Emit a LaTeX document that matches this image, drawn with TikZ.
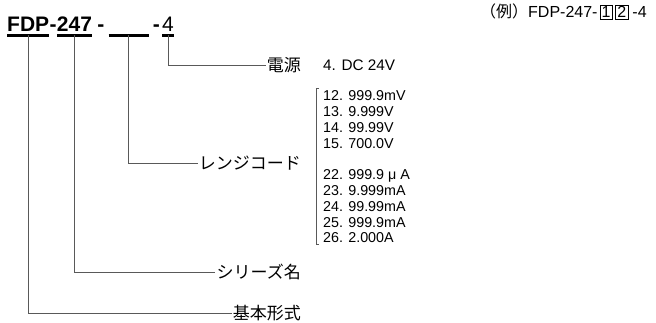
\documentclass[tikz,border=0pt]{standalone}
\usepackage{fontspec}
\setmainfont{Liberation Sans}
\newfontfamily\jp{Noto Sans CJK JP}

\tikzset{
  code/.style={font=\fontsize{21}{21}\selectfont\bfseries, inner sep=0pt, anchor=base west},
  uline/.style={line width=2.2pt},
  lead/.style={draw=black!65, line width=0.8pt},
  part/.style={font=\jp\fontsize{17}{17}\selectfont, inner sep=1pt, anchor=east},
  spec/.style={font=\fontsize{14.3}{15.8}\selectfont, inner sep=0pt},
  extext/.style={font=\fontsize{16}{16}\selectfont, inner sep=0pt, anchor=base west},
  numbox/.style={extext, draw, line width=0.6pt, inner sep=1.8pt}
}

\begin{document}
\begin{tikzpicture}[x=1pt,y=-1pt]
\useasboundingbox (0,0) rectangle (656,323);

% model code
\node[code] (fdp)  at (7,32)             {FDP};
\node[code] (h1)   at (fdp.base east)    {-};
\node[code] (n247) at (h1.base east)     {247};
\node[code] (h2)   at ([xshift=5pt]n247.base east) {-};
\coordinate (blankl) at ([xshift=4pt,yshift=-3.5pt]h2.base east);
\coordinate (blankm) at ([xshift=20pt]blankl);
\coordinate (blankr) at ([xshift=40pt]blankl);
\node[code] (h3)   at ([xshift=4pt,yshift=3.5pt]blankr) {-};
\node[code,font=\fontsize{21}{21}\selectfont] (four) at ([xshift=2pt]h3.base east) {4};

\draw[uline] ([yshift=-3.5pt]fdp.base west) -- ([yshift=-3.5pt]fdp.base east);
\draw[uline] ([yshift=-3.5pt]n247.base west) -- ([yshift=-3.5pt]n247.base east);
\draw[uline] (blankl) -- (blankr);
\draw[uline] ([yshift=-3.5pt]four.base west) -- ([yshift=-3.5pt]four.base east);

% example
\node[extext] (example) at (480,18) {{\jp\fontsize{16}{16}\selectfont （例）}FDP-247-};
\node[numbox] (ex1) at ([xshift=1.8pt]example.base east) {1};
\node[numbox] (ex2) at ([xshift=2.5pt]ex1.base east) {2};
\node[extext] (extail) at ([xshift=4pt]ex2.base east) {-4};

% parts
\node[part] (dengen) at (302,65)  {電源};
\node[part] (range)  at (302,163) {レンジコード};
\node[part] (series) at (302,272) {シリーズ名};
\node[part] (kihon)  at (302,313) {基本形式};

\node[spec, anchor=west, font=\fontsize{15.3}{15.3}\selectfont] (dc) at (323,65) {4. DC 24V};
\node[spec, anchor=north west, align=left] (ranges) at (323,90.5)
  {12. 999.9mV\\13. 9.999V\\14. 99.99V\\15. 700.0V\\[15.8pt]
   22. 999.9 μ A\\23. 9.999mA\\24. 99.99mA\\25. 999.9mA\\26. 2.000A};
\draw[lead] ([xshift=-4pt,yshift=2pt]ranges.north west) -- ([xshift=-7pt,yshift=2pt]ranges.north west)
  -- ([xshift=-7pt,yshift=-1pt]ranges.south west) -- ([xshift=-4pt,yshift=-1pt]ranges.south west);

% leads
\draw[lead] ([yshift=-3.5pt]four.base) |- (dengen.west);
\draw[lead] (blankm) |- (range.west);
\draw[lead] ([yshift=-3.5pt]n247.base) |- (series.west);
\draw[lead] ([yshift=-3.5pt]fdp.base) |- (kihon.west);
\end{tikzpicture}
\end{document}
